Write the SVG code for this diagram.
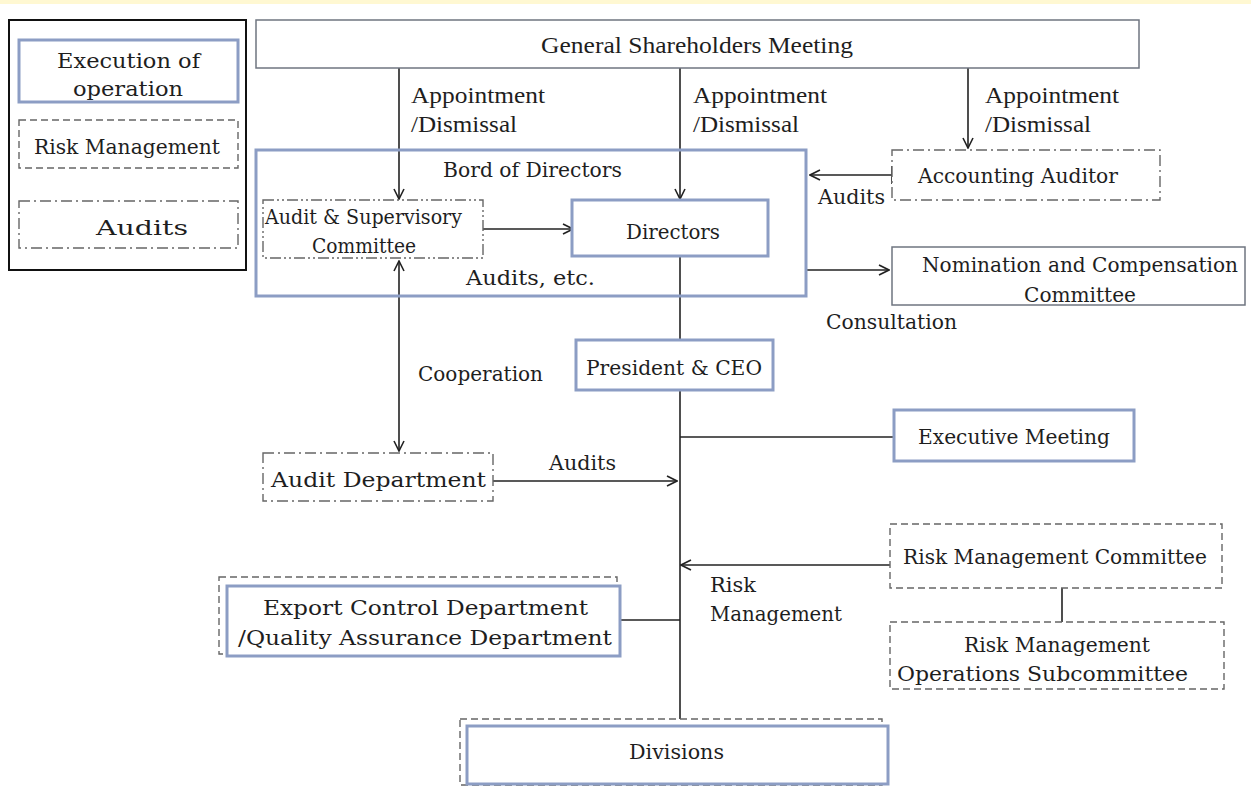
<svg xmlns="http://www.w3.org/2000/svg" width="1251" height="796" viewBox="0 0 1251 796">
<defs>
<marker id="ah" viewBox="0 0 12 12" refX="11" refY="6" markerWidth="12" markerHeight="12" markerUnits="userSpaceOnUse" orient="auto-start-reverse">
<path d="M1,1 L11,6 L1,11" fill="none" stroke="#222" stroke-width="1.6"/>
</marker>
<style>
.t{font-family:"DejaVu Serif","Liberation Serif",serif;font-size:20px;fill:#1e1e1e}
.n{font-family:"Liberation Serif","Times New Roman",serif;font-size:23px;fill:#1e1e1e}
.blue{fill:#fff;stroke:#8c9dc4;stroke-width:3}
.gray{fill:#fff;stroke:#6f7580;stroke-width:1.5}
.dash{fill:#fff;stroke:#666;stroke-width:1.4;stroke-dasharray:7 4}
.dd{fill:#fff;stroke:#666;stroke-width:1.4;stroke-dasharray:11 4 2 4}
.ddd{fill:#fff;stroke:#666;stroke-width:1.4;stroke-dasharray:11 3 2 3 2 3}
.c{fill:none;stroke:#222;stroke-width:1.6}
.ca{fill:none;stroke:#222;stroke-width:1.6;marker-end:url(#ah)}
</style>
</defs>
<rect width="1251" height="796" fill="#fff"/>
<rect width="1251" height="4" fill="#fff8d2"/>

<g id="legend">
<rect x="9" y="20" width="237" height="250" fill="#fff" stroke="#111" stroke-width="2"/>
<rect class="blue" x="19" y="40" width="219" height="62"/>
<text class="t" x="57" y="68" textLength="143" lengthAdjust="spacingAndGlyphs">Execution of</text>
<text class="t" x="73" y="96" textLength="110" lengthAdjust="spacingAndGlyphs">operation</text>
<rect class="dash" x="19" y="120" width="219" height="48"/>
<text class="t" x="34" y="154" textLength="186" lengthAdjust="spacingAndGlyphs">Risk Management</text>
<rect class="dd" x="19" y="201" width="219" height="47"/>
<text class="t" x="96" y="235" textLength="92" lengthAdjust="spacingAndGlyphs">Audits</text>
</g>

<g id="connectors">
<line class="ca" x1="399" y1="68" x2="399" y2="199"/>
<line class="ca" x1="680" y1="68" x2="680" y2="199"/>
<line class="ca" x1="968" y1="68" x2="968" y2="148"/>
<line class="ca" x1="483" y1="229" x2="573" y2="229"/>
<line class="ca" x1="892" y1="175" x2="810" y2="175"/>
<line class="c" x1="892" y1="166" x2="892" y2="184"/>
<line class="ca" x1="807" y1="270" x2="889" y2="270"/>
<line class="c" x1="680" y1="257" x2="680" y2="340"/>
<line class="c" x1="680" y1="391" x2="680" y2="719"/>
<line class="c" x1="680" y1="437" x2="894" y2="437"/>
<line class="ca" x1="399" y1="261" x2="399" y2="451" style="marker-start:url(#ah)"/>
<line class="ca" x1="493" y1="481" x2="677" y2="481"/>
<line class="ca" x1="890" y1="565" x2="681" y2="565"/>
<line class="c" x1="1062" y1="588" x2="1062" y2="622"/>
<line class="c" x1="620" y1="620" x2="680" y2="620"/>
</g>

<g id="gsm">
<rect class="gray" x="256" y="20" width="883" height="48"/>
<text class="n" x="541" y="53" textLength="312" lengthAdjust="spacingAndGlyphs">General Shareholders Meeting</text>
</g>

<g id="labels-appointment">
<text class="n" x="411" y="103" textLength="134" lengthAdjust="spacingAndGlyphs">Appointment</text>
<text class="n" x="411" y="132" textLength="106" lengthAdjust="spacingAndGlyphs">/Dismissal</text>
<text class="n" x="693" y="103" textLength="134" lengthAdjust="spacingAndGlyphs">Appointment</text>
<text class="n" x="693" y="132" textLength="106" lengthAdjust="spacingAndGlyphs">/Dismissal</text>
<text class="n" x="985" y="103" textLength="134" lengthAdjust="spacingAndGlyphs">Appointment</text>
<text class="n" x="985" y="132" textLength="106" lengthAdjust="spacingAndGlyphs">/Dismissal</text>
</g>

<g id="board">
<rect class="blue" x="256" y="150" width="550" height="146" style="fill:none"/>
<text class="t" x="443" y="177" textLength="179" lengthAdjust="spacingAndGlyphs">Bord of Directors</text>
<text class="t" x="466" y="285" textLength="129" lengthAdjust="spacingAndGlyphs">Audits, etc.</text>
</g>

<g id="audit-supervisory">
<rect class="ddd" x="263" y="200" width="220" height="58"/>
<text class="t" x="265" y="224" textLength="197" lengthAdjust="spacingAndGlyphs">Audit &amp; Supervisory</text>
<text class="t" x="312" y="253" textLength="104" lengthAdjust="spacingAndGlyphs">Committee</text>
</g>

<g id="directors">
<rect class="blue" x="572" y="200" width="196" height="56"/>
<text class="t" x="626" y="239" textLength="94" lengthAdjust="spacingAndGlyphs">Directors</text>
</g>

<g id="accounting-auditor">
<rect class="dd" x="892" y="150" width="268" height="50"/>
<text class="t" x="918" y="183" textLength="200" lengthAdjust="spacingAndGlyphs">Accounting Auditor</text>
<text class="t" x="818" y="204" textLength="67" lengthAdjust="spacingAndGlyphs">Audits</text>
</g>

<g id="nomination">
<rect class="gray" x="892" y="247" width="353" height="58"/>
<text class="t" x="922" y="272" textLength="316" lengthAdjust="spacingAndGlyphs">Nomination and Compensation</text>
<text class="t" x="1024" y="302" textLength="112" lengthAdjust="spacingAndGlyphs">Committee</text>
<text class="t" x="826" y="329" textLength="131" lengthAdjust="spacingAndGlyphs">Consultation</text>
</g>

<g id="president">
<rect class="blue" x="576" y="340" width="197" height="50"/>
<text class="t" x="586" y="375" textLength="176" lengthAdjust="spacingAndGlyphs">President &amp; CEO</text>
</g>

<text class="t" x="418" y="381" textLength="125" lengthAdjust="spacingAndGlyphs">Cooperation</text>

<g id="executive-meeting">
<rect class="blue" x="894" y="410" width="240" height="51"/>
<text class="t" x="918" y="444" textLength="192" lengthAdjust="spacingAndGlyphs">Executive Meeting</text>
</g>

<g id="audit-department">
<rect class="dd" x="263" y="453" width="230" height="48"/>
<text class="t" x="271" y="487" textLength="215" lengthAdjust="spacingAndGlyphs">Audit Department</text>
<text class="t" x="549" y="470" textLength="67" lengthAdjust="spacingAndGlyphs">Audits</text>
</g>

<g id="risk-committee">
<rect class="dash" x="890" y="524" width="332" height="64"/>
<text class="t" x="903" y="564" textLength="304" lengthAdjust="spacingAndGlyphs">Risk Management Committee</text>
<text class="t" x="710" y="592" textLength="46" lengthAdjust="spacingAndGlyphs">Risk</text>
<text class="t" x="710" y="621" textLength="132" lengthAdjust="spacingAndGlyphs">Management</text>
</g>

<g id="risk-subcommittee">
<rect class="dash" x="890" y="622" width="334" height="67"/>
<text class="t" x="964" y="652" textLength="186" lengthAdjust="spacingAndGlyphs">Risk Management</text>
<text class="t" x="897" y="681" textLength="291" lengthAdjust="spacingAndGlyphs">Operations Subcommittee</text>
</g>

<g id="export-control">
<rect class="dash" x="219" y="577" width="398" height="77"/>
<rect class="blue" x="227" y="586" width="393" height="70"/>
<text class="t" x="263" y="615" textLength="325" lengthAdjust="spacingAndGlyphs">Export Control Department</text>
<text class="t" x="238" y="645" textLength="374" lengthAdjust="spacingAndGlyphs">/Quality Assurance Department</text>
</g>

<g id="divisions">
<rect class="dash" x="460" y="719" width="422" height="66"/>
<rect class="blue" x="467" y="726" width="421" height="58"/>
<text class="t" x="629" y="759" textLength="95" lengthAdjust="spacingAndGlyphs">Divisions</text>
</g>
</svg>
